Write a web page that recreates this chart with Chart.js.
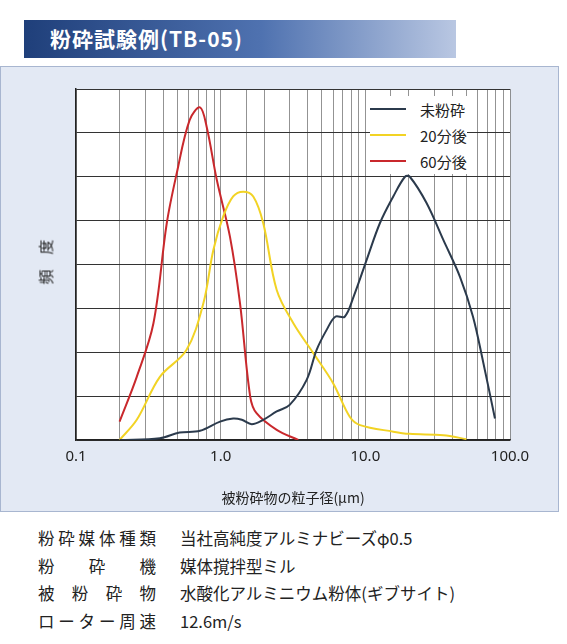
<!DOCTYPE html>
<html>
<head>
<meta charset="utf-8">
<script src="https://cdn.jsdelivr.net/npm/chart.js@4.4.0/dist/chart.umd.min.js"></script>
<style>
  body { margin: 0; width: 567px; height: 644px; background: #fff; font-family: "Noto Sans CJK JP", sans-serif; position: relative; overflow: hidden; }
  #banner { position: absolute; left: 24px; top: 20px; width: 432px; height: 38px;
    background: linear-gradient(to right, #1f3f7a, #4f72b0 55%, #b9c7e2); }
  #banner span { position: absolute; left: 26px; top: 3px; color: #fff; font-weight: bold; font-size: 21px; letter-spacing: 1px; }
  #panel { position: absolute; left: 0; top: 66px; width: 557px; height: 444px; background: #e3e9f4; border: 1px solid #a8b6d0; }
  #wrap { position: absolute; left: 0; top: 65px; width: 567px; height: 445px; }
  #ylab { position: absolute; left: 45px; top: 262px; font-size: 15px; color: #222; white-space: nowrap;
    transform: translate(-50%, -50%) rotate(-90deg); }
  #legend { position: absolute; left: 370px; top: 96px; font-size: 15px; color: #222; background: #fff; }
  #legend div { height: 26px; display: flex; align-items: center; }
  #legend i { display: inline-block; width: 36px; height: 2px; margin-right: 14px; }
  #notes { position: absolute; left: 38px; top: 526px; font-size: 16.5px; color: #222; }
  #notes div { height: 27.5px; display: flex; }
  #notes b { font-weight: normal; width: 118px; text-align-last: justify; margin-right: 24px; }
</style>
</head>
<body>
<div id="banner"><span>粉砕試験例(TB-05)</span></div>
<div id="panel"></div>
<div id="wrap"><canvas id="chart" width="567" height="445"></canvas></div>
<div id="ylab">頻　度</div>
<div id="legend"></div>
<div id="notes">
  <div><b>粉砕媒体種類</b><span>当社高純度アルミナビーズφ0.5</span></div>
  <div><b>粉　砕　機</b><span>媒体撹拌型ミル</span></div>
  <div><b>被粉砕物</b><span>水酸化アルミニウム粉体(ギブサイト)</span></div>
  <div><b>ローター周速</b><span>12.6m/s</span></div>
</div>
<script>
// データ
const seriesNames = ['未粉砕', '20分後', '60分後'];
const seriesColors = ['#2b3a4c', '#f2d324', '#c9282c'];
const xTicks = [0.1, 1, 10, 100];

const raw = [[0.2,0],[0.38,0.04],[0.52,0.17],[0.72,0.21],[0.99,0.42],[1.22,0.49],[1.40,0.46],[1.64,0.36],[1.97,0.46],[2.44,0.65],[3.0,0.80],[3.93,1.37],[4.6,2.05],[5.4,2.51],[6.2,2.81],[7.2,2.81],[8.3,3.27],[10.2,4.10],[12.6,4.94],[15.6,5.55],[18.8,6.0],[20.3,6.0],[26.5,5.40],[34.6,4.56],[45.1,3.72],[55.5,2.81],[65.5,1.75],[78.7,0.49]];
const min20 = [[0.2,0],[0.263,0.46],[0.38,1.44],[0.58,2.05],[0.76,3.12],[0.89,4.33],[1.04,5.09],[1.22,5.55],[1.43,5.66],[1.68,5.55],[1.97,4.94],[2.44,3.42],[3.18,2.66],[4.37,1.98],[6.0,1.29],[7.8,0.53],[9.2,0.34],[15.6,0.19],[20.2,0.14],[34.6,0.11],[50,0.02]];
const min60 = [[0.2,0.42],[0.263,1.44],[0.343,2.66],[0.424,4.94],[0.497,6.08],[0.61,7.29],[0.72,7.58],[0.80,7.14],[0.94,5.93],[1.16,4.63],[1.36,3.12],[1.60,0.99],[1.77,0.61],[2.44,0.23],[3.44,0]];

const allData = [raw, min20, min60];

document.getElementById('legend').innerHTML = seriesNames.map((n, i) =>
  `<div><i style="background:${seriesColors[i]}"></i>${n}</div>`).join('');

new Chart(document.getElementById('chart'), {
  type: 'line',
  data: {
    datasets: allData.map((d, i) => ({
      label: seriesNames[i],
      data: d.map(p => ({ x: p[0], y: p[1] })),
      borderColor: seriesColors[i],
      borderWidth: 2,
      pointRadius: 0,
      tension: 0.35,
      fill: false
    }))
  },
  options: {
    responsive: false,
    animation: false,
    layout: { padding: { top: 24, right: 57, left: 0, bottom: 0 } },
    plugins: { legend: { display: false }, tooltip: { enabled: false } },
    scales: {
      x: {
        type: 'logarithmic', min: 0.1, max: 100,
        afterFit: s => { s.height = 70; },
        border: { color: '#222', width: 1.5 },
        grid: { color: '#777', lineWidth: 0.8, drawTicks: false },
        ticks: {
          padding: 8, color: '#222', font: { size: 15, family: 'Noto Sans' }, autoSkip: false, maxRotation: 0,
          callback: v => xTicks.includes(v) ? v.toFixed(1) : ''
        },
        title: { display: true, text: '被粉砕物の粒子径(μm)', color: '#222', font: { size: 14, family: 'Noto Sans CJK JP' }, padding: { top: 0 } }
      },
      y: {
        min: 0, max: 8,
        afterFit: s => { s.width = 76; },
        border: { color: '#222', width: 1.5 },
        grid: { color: '#333', lineWidth: 1, drawTicks: false },
        ticks: { stepSize: 1, display: false }
      }
    }
  },
  plugins: [{
    id: 'bg',
    beforeDraw(c) {
      const a = c.chartArea, g = c.ctx;
      g.save(); g.fillStyle = '#fff'; g.fillRect(a.left, a.top, a.right - a.left, a.bottom - a.top); g.restore();
    }
  }]
});
</script>
</body>
</html>
